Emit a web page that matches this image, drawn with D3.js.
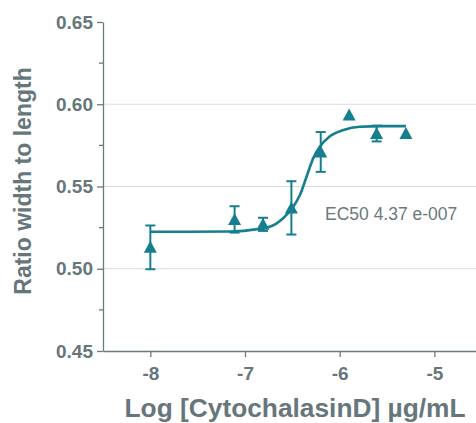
<!DOCTYPE html>
<html>
<head>
<meta charset="utf-8">
<script src="https://cdn.jsdelivr.net/npm/d3@7"></script>
<style>
  body { margin: 0; background: #fff; }
  svg text { font-family: "Liberation Sans", Arial, sans-serif; }
  .axis path, .axis line { stroke: #6b7a7f; stroke-width: 1.3; }
  .axis text { fill: #66767b; font-size: 19px; font-weight: bold; }
  .grid line { stroke: #d9dcdd; stroke-width: 1.2; }
  .axis-title { fill: #66767b; font-weight: bold; }
</style>
</head>
<body>
<div id="chart"></div>
<script>
// measured points: log concentration, mean ratio, error (+/-)
const logConc = [-8, -7.11, -6.81, -6.51, -6.2, -5.9, -5.61, -5.3];
const ratio   = [0.513, 0.530, 0.527, 0.537, 0.571, 0.5934, 0.5822, 0.5822];
const errBar  = [0.0133, 0.008, 0.004, 0.0162, 0.0121, 0, 0.0048, 0];

// fitted curve
const fitX = [-8, -7.16, -6.95, -6.74, -6.60, -6.49, -6.42, -6.35, -6.28, -6.21, -6.11, -5.96, -5.79, -5.54, -5.3];
const fitY = [0.5225, 0.5226, 0.5235, 0.5255, 0.5306, 0.5377, 0.5448, 0.5559, 0.5671, 0.5741, 0.5802, 0.5843, 0.5863, 0.5867, 0.5867];

const yTicks = [0.45, 0.50, 0.55, 0.60, 0.65];
const yMinor = [0.475, 0.525, 0.575, 0.625];
const xTicks = [-8, -7, -6, -5];
const ec50Label = "EC50 4.37 e-007";

const config = {
  width: 476, height: 423,
  margin: {top: 22, right: 0, bottom: 72, left: 103}
};
const innerW = config.width - config.margin.left - config.margin.right;
const innerH = config.height - config.margin.top - config.margin.bottom;
const teal = '#157f90';

const svg = d3.select('#chart').append('svg')
    .attr('width', config.width)
    .attr('height', config.height);

const chart = svg.append('g')
    .attr('transform', `translate(${config.margin.left},${config.margin.top})`);

const xScale = d3.scaleLinear().domain([-8.5, -4.56]).range([0, innerW]);
const yScale = d3.scaleLinear().domain([0.45, 0.65]).range([innerH, 0]);

// gridlines
chart.append('g').attr('class', 'grid')
  .selectAll('line')
  .data([0.50, 0.55, 0.60])
  .join('line')
    .attr('x1', 0).attr('x2', innerW)
    .attr('y1', d => yScale(d)).attr('y2', d => yScale(d));

// axes
const yAxis = d3.axisLeft(yScale)
    .tickValues(yTicks)
    .tickFormat(d3.format('.2f'))
    .tickSize(6)
    .tickSizeOuter(0)
    .tickPadding(4);
chart.append('g').attr('class', 'axis y-axis').call(yAxis);

chart.append('g').attr('class', 'axis y-minor')
  .selectAll('line')
  .data(yMinor)
  .join('line')
    .attr('x1', -4).attr('x2', 0)
    .attr('y1', d => yScale(d)).attr('y2', d => yScale(d));

const xAxis = d3.axisBottom(xScale)
    .tickValues(xTicks)
    .tickFormat(d => String(d))   // plain hyphen, not the unicode minus
    .tickSize(6)
    .tickSizeOuter(0)
    .tickPadding(10);
chart.append('g').attr('class', 'axis x-axis')
    .attr('transform', `translate(0,${innerH})`)
    .call(xAxis);

// titles
svg.append('text')
    .attr('class', 'axis-title')
    .attr('transform', `translate(31,181) rotate(-90)`)
    .attr('text-anchor', 'middle')
    .style('font-size', '23px')
    .text('Ratio width to length');

svg.append('text')
    .attr('class', 'axis-title')
    .attr('x', 295)
    .attr('y', 417)
    .attr('text-anchor', 'middle')
    .style('font-size', '26.3px')
    .text('Log [CytochalasinD] \u00b5g/mL');

// fitted curve
const fit = fitX.map((x, i) => ({x, y: fitY[i]}));
chart.append('path')
    .datum(fit)
    .attr('fill', 'none')
    .attr('stroke', teal)
    .attr('stroke-width', 2.6)
    .attr('d', d3.line()
        .x(d => xScale(d.x))
        .y(d => yScale(d.y))
        .curve(d3.curveMonotoneX));

const points = logConc.map((x, i) => ({x, y: ratio[i], e: errBar[i]}));

// error bars
const eb = chart.append('g').attr('stroke', teal).attr('stroke-width', 2);
const withErr = points.filter(d => d.e > 0);
eb.selectAll('.stem').data(withErr).join('line')
    .attr('class', 'stem')
    .attr('x1', d => xScale(d.x)).attr('x2', d => xScale(d.x))
    .attr('y1', d => yScale(d.y + d.e)).attr('y2', d => yScale(d.y - d.e));
eb.selectAll('.cap-top').data(withErr).join('line')
    .attr('class', 'cap-top')
    .attr('x1', d => xScale(d.x) - 5).attr('x2', d => xScale(d.x) + 5)
    .attr('y1', d => yScale(d.y + d.e)).attr('y2', d => yScale(d.y + d.e));
eb.selectAll('.cap-bot').data(withErr).join('line')
    .attr('class', 'cap-bot')
    .attr('x1', d => xScale(d.x) - 5).attr('x2', d => xScale(d.x) + 5)
    .attr('y1', d => yScale(d.y - d.e)).attr('y2', d => yScale(d.y - d.e));

// triangle markers
chart.selectAll('.point').data(points).join('path')
    .attr('class', 'point')
    .attr('transform', d => `translate(${xScale(d.x)},${yScale(d.y)})`)
    .attr('d', 'M0,-6.5L6.5,5.5L-6.5,5.5Z')
    .attr('fill', teal);

// EC50 annotation
chart.append('text')
    .attr('x', 325 - config.margin.left)
    .attr('y', 220 - config.margin.top)
    .style('font-size', '17.5px')
    .attr('fill', '#6b797d')
    .text(ec50Label);
</script>
</body>
</html>
